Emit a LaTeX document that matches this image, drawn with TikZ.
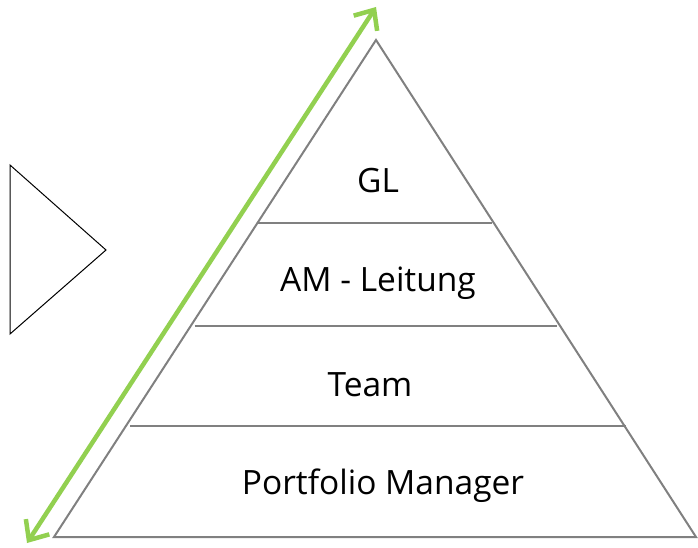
\documentclass[tikz,border=0pt]{standalone}
\usepackage{fontspec}
\setmainfont{Open Sans}
\usetikzlibrary{arrows.meta}
\definecolor{pgray}{RGB}{128,128,128}
\definecolor{pgreen}{RGB}{146,208,80}
\tikzset{
  pyr/.style={draw=pgray, line width=2pt},
  lvl/.style={font=\fontsize{33.5}{36}\selectfont, inner sep=0pt, anchor=center},
  garrow/.style={draw=pgreen, line width=4.5pt, {Straight Barb[length=16pt,width=28pt,line width=4.5pt]}-{Straight Barb[length=16pt,width=28pt,line width=4.5pt]}},
}
\begin{document}
\begin{tikzpicture}[x=1pt,y=-1pt]
\useasboundingbox (0,0) rectangle (698,548);
\coordinate (apex) at (376,40);
\coordinate (bl) at (54,537);
\coordinate (br) at (696,537);
\draw[pyr, line join=miter] (apex) -- (bl) -- (br) -- cycle;
\coordinate (l1a) at (257.5,223); \coordinate (l1b) at (492,223);
\coordinate (l2a) at (194.5,326); \coordinate (l2b) at (557,326);
\coordinate (l3a) at (130,426); \coordinate (l3b) at (626,426);
\draw[pyr] (l1a) -- (l1b);
\draw[pyr] (l2a) -- (l2b);
\draw[pyr] (l3a) -- (l3b);
\node[lvl] (gl) at (378,181) {GL};
\node[lvl] (am) at (378,283) {AM - Leitung};
\node[lvl] (team) at (370,385) {Team};
\node[lvl] (pm) at (383,486) {Portfolio Manager};
\coordinate (s1) at (10,165); \coordinate (s2) at (106,250); \coordinate (s3) at (10,334);
\draw[black, line width=1pt] (s1) -- (s2) -- (s3) -- cycle;
\coordinate (ga) at (27,543); \coordinate (gb) at (376,7);
\draw[garrow] (ga) -- (gb);
\end{tikzpicture}
\end{document}
